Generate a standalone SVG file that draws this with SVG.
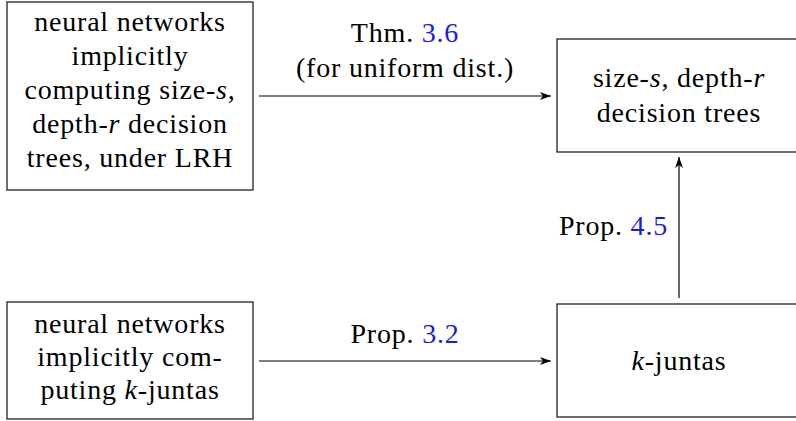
<svg xmlns="http://www.w3.org/2000/svg" width="796" height="421" viewBox="0 0 796 421">
<defs>
<marker id="arr" markerWidth="12" markerHeight="10" refX="11" refY="4" orient="auto" markerUnits="userSpaceOnUse">
<path d="M0,0 L11,4 L0,8 L3,4 Z" fill="#000"/>
</marker>
</defs>
<rect width="796" height="421" fill="#fff"/>
<g font-family="Liberation Serif" font-size="28" letter-spacing="0.8" text-anchor="middle" fill="#000">
<g id="nn-dt">
<rect x="7" y="2" width="246" height="188" fill="#fff" stroke="#222" stroke-width="1.3"/>
<text x="130" y="31">neural networks</text>
<text x="130" y="65">implicitly</text>
<text x="130" y="99">computing size-<tspan font-style="italic">s</tspan>,</text>
<text x="130" y="133">depth-<tspan font-style="italic">r</tspan> decision</text>
<text x="130" y="167">trees, under LRH</text>
</g>
<g id="dt">
<rect x="557" y="39" width="246" height="113" fill="#fff" stroke="#222" stroke-width="1.3"/>
<text x="679" y="87">size-<tspan font-style="italic">s</tspan>, depth-<tspan font-style="italic">r</tspan></text>
<text x="679" y="122">decision trees</text>
</g>
<g id="nn-juntas">
<rect x="7" y="302" width="246" height="117" fill="#fff" stroke="#222" stroke-width="1.3"/>
<text x="130" y="333">neural networks</text>
<text x="130" y="366">implicitly com-</text>
<text x="130" y="399">puting <tspan font-style="italic">k</tspan>-juntas</text>
</g>
<g id="juntas">
<rect x="557" y="304" width="246" height="113" fill="#fff" stroke="#222" stroke-width="1.3"/>
<text x="679" y="370"><tspan font-style="italic">k</tspan>-juntas</text>
</g>
<g id="connectors" stroke-width="1.2">
<line x1="259" y1="96" x2="551" y2="96" stroke="#000" marker-end="url(#arr)"/>
<line x1="259" y1="361" x2="551" y2="361" stroke="#000" marker-end="url(#arr)"/>
<line x1="679" y1="298" x2="679" y2="157" stroke="#000" marker-end="url(#arr)"/>
<text x="405" y="42">Thm. <tspan fill="#1a1ae0">3.6</tspan></text>
<text x="405" y="77">(for uniform dist.)</text>
<text x="405" y="343">Prop. <tspan fill="#1a1ae0">3.2</tspan></text>
<text x="668" y="235" text-anchor="end">Prop. <tspan fill="#1a1ae0">4.5</tspan></text>
</g>
</g>
</svg>
